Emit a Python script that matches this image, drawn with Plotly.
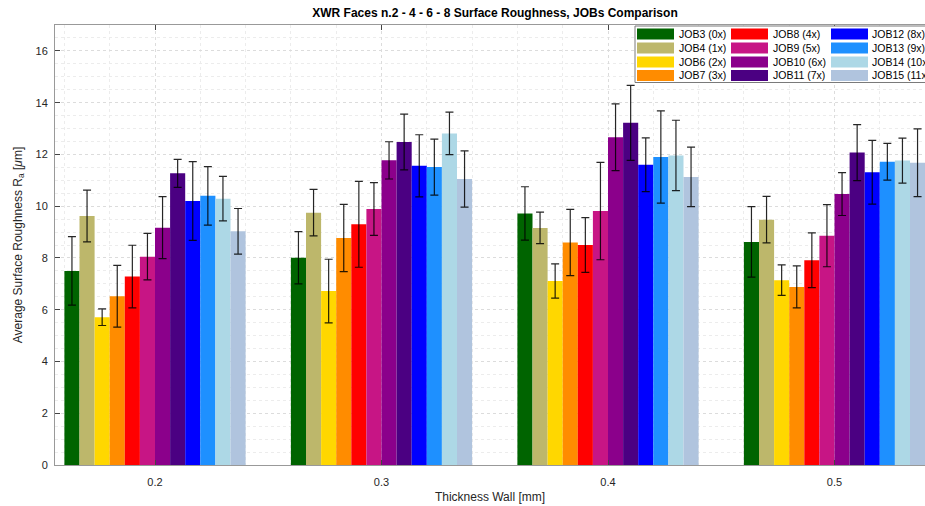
import plotly.graph_objects as go

# ---------------- data ----------------
categories = ["0.2", "0.3", "0.4", "0.5"]
jobs = ["JOB3 (0x)", "JOB4 (1x)", "JOB6 (2x)", "JOB7 (3x)",
        "JOB8 (4x)", "JOB9 (5x)", "JOB10 (6x)", "JOB11 (7x)",
        "JOB12 (8x)", "JOB13 (9x)", "JOB14 (10x)", "JOB15 (11x)"]
colors = ["#006400", "#BDB76B", "#FFD700", "#FF8C00",
          "#FF0000", "#C71585", "#8B008B", "#4B0082",
          "#0000FF", "#1E90FF", "#ADD8E6", "#B0C4DE"]

ra_02 = [7.50, 9.62, 5.71, 6.52, 7.28, 8.05, 9.17, 11.27, 10.20, 10.40, 10.29, 9.03]
ra_03 = [8.01, 9.75, 6.72, 8.77, 9.30, 9.89, 11.77, 12.48, 11.56, 11.51, 12.81, 11.05]
ra_04 = [9.72, 9.16, 7.11, 8.60, 8.50, 9.81, 12.66, 13.22, 11.60, 11.90, 11.96, 11.13]
ra_05 = [8.62, 9.48, 7.14, 6.88, 7.91, 8.86, 10.47, 12.07, 11.31, 11.72, 11.76, 11.68]

err_02 = [1.32, 1.00, 0.32, 1.19, 1.21, 0.90, 1.20, 0.54, 1.52, 1.13, 0.86, 0.88]
err_03 = [1.01, 0.90, 1.23, 1.30, 1.66, 1.02, 0.72, 1.08, 1.20, 1.08, 0.82, 1.09]
err_04 = [1.03, 0.61, 0.66, 1.28, 1.06, 1.88, 1.29, 1.45, 1.04, 1.78, 1.36, 1.15]
err_05 = [1.36, 0.90, 0.59, 0.81, 1.06, 1.20, 0.83, 1.08, 1.23, 0.71, 0.87, 1.31]

y_ticks = [0, 2, 4, 6, 8, 10, 12, 14, 16]

# ---------------- figure ----------------
W, H = 925, 506
L, R, T, B = 55, 0, 25, 41
FONT = "Liberation Sans, Arial, sans-serif"
groups_ra = [ra_02, ra_03, ra_04, ra_05]
groups_err = [err_02, err_03, err_04, err_05]
xpos = list(range(1, len(categories) + 1))

fig = go.Figure()
for j, name in enumerate(jobs):
    fig.add_trace(go.Bar(
        x=xpos,
        y=[g[j] for g in groups_ra],
        name=name,
        marker=dict(color=colors[j], line=dict(width=0)),
        error_y=dict(type="data", array=[g[j] for g in groups_err],
                     color="rgba(0,0,0,0.85)", thickness=1.2, width=4),
        showlegend=False,
    ))

pw = W - L - R
ph = H - T - B


def px_x(p):
    return (p - L) / pw


def px_y(p):
    return (H - B - p) / ph


shapes = []
annotations = []
# legend box
shapes.append(dict(type="rect", xref="paper", yref="paper",
                   x0=px_x(635), x1=px_x(960), y0=px_y(82.5), y1=px_y(26),
                   fillcolor="white", line=dict(color="#7a7a7a", width=1),
                   layer="above"))
col_sw = [637, 731, 831]
col_tx = [677, 771, 870]
row_y = [34, 48, 62, 75.5]
for i, name in enumerate(jobs):
    c, r = i // 4, i % 4
    shapes.append(dict(type="rect", xref="paper", yref="paper",
                       x0=px_x(col_sw[c]), x1=px_x(col_sw[c] + 37),
                       y0=px_y(row_y[r] + 5.5), y1=px_y(row_y[r] - 5.5),
                       fillcolor=colors[i], line=dict(width=0), layer="above"))
    annotations.append(dict(xref="paper", yref="paper", x=px_x(col_tx[c]),
                            y=px_y(row_y[r]), text=name, showarrow=False,
                            xanchor="left", yanchor="middle",
                            font=dict(family=FONT, size=10.5, color="#000000")))

fig.update_layout(
    width=W, height=H,
    margin=dict(l=L, r=R, t=T, b=B),
    paper_bgcolor="white", plot_bgcolor="white",
    barmode="group", bargap=0.2, bargroupgap=0,
    font=dict(family=FONT, size=11, color="#262626"),
    title=dict(text="<b>XWR Faces n.2 - 4 - 6 - 8 Surface Roughness, JOBs Comparison</b>",
               x=495 / W, xanchor="center",
               y=1 - 13 / H, yanchor="middle",
               font=dict(family=FONT, size=12, color="#000000")),
    shapes=shapes,
    annotations=annotations,
    xaxis=dict(
        range=[1 - (155 - L) / 226.5, 1 - (155 - L) / 226.5 + pw / 226.5],
        tickvals=xpos, ticktext=categories,
        ticks="inside", ticklen=5, tickcolor="#444",
        showline=True, linecolor="#999999", linewidth=1, mirror="ticks",
        showgrid=True, gridcolor="#dcdcdc", griddash="dot", gridwidth=1,
        minor=dict(dtick=0.2, tick0=0, showgrid=True, gridcolor="#ececec",
                   griddash="dot", gridwidth=1),
        zeroline=False,
        tickfont=dict(size=11, color="#262626"),
        ticklabelstandoff=7,
        title=dict(text="Thickness Wall [mm]", standoff=5,
                   font=dict(size=12, color="#262626")),
    ),
    yaxis=dict(
        range=[0, 17], tickvals=y_ticks,
        ticks="inside", ticklen=5, tickcolor="#444",
        showline=True, linecolor="#999999", linewidth=1, mirror=False,
        showgrid=True, gridcolor="#dcdcdc", griddash="dot", gridwidth=1,
        minor=dict(dtick=0.5, showgrid=True, gridcolor="#ececec",
                   griddash="dot", gridwidth=1),
        zeroline=False,
        tickfont=dict(size=11, color="#262626"),
        ticklabelstandoff=4,
        title=dict(text="Average Surface Roughness R<sub>a</sub> [<i>\u03bc</i>m]",
                   standoff=10, font=dict(size=12, color="#262626")),
    ),
)

fig.write_html("out.html")
